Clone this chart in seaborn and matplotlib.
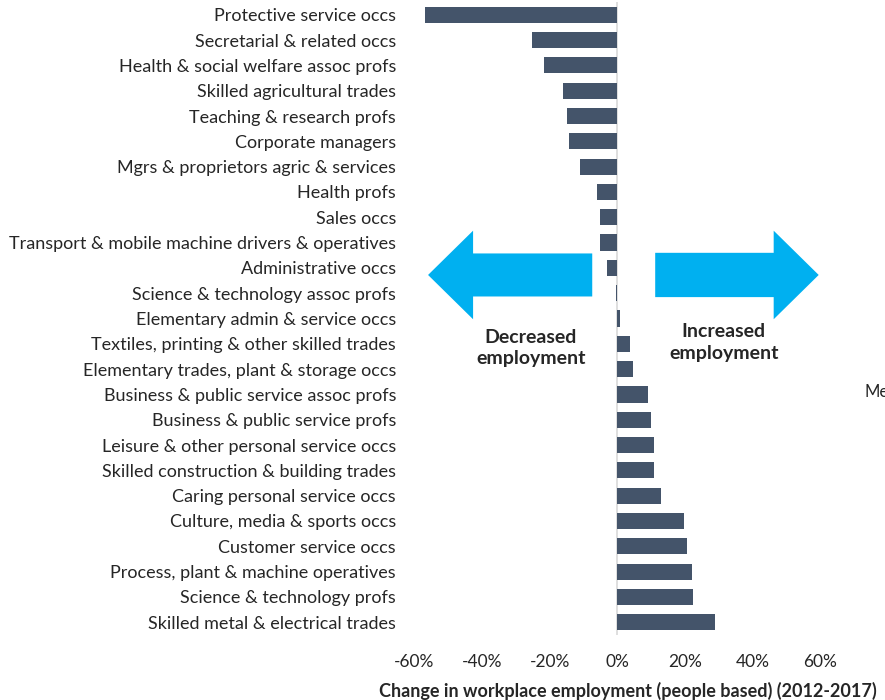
import matplotlib
matplotlib.use("Agg")
import matplotlib.pyplot as plt
from matplotlib.patches import FancyArrow
from matplotlib.ticker import FuncFormatter
import pandas as pd
import seaborn as sns

# ------------------------
# Data
# ------------------------
occupations = [
    "Protective service occs",
    "Secretarial & related occs",
    "Health & social welfare assoc profs",
    "Skilled agricultural trades",
    "Teaching & research profs",
    "Corporate managers",
    "Mgrs & proprietors agric & services",
    "Health profs",
    "Sales occs",
    "Transport & mobile machine drivers & operatives",
    "Administrative occs",
    "Science & technology assoc profs",
    "Elementary admin & service occs",
    "Textiles, printing & other skilled trades",
    "Elementary trades, plant & storage occs",
    "Business & public service assoc profs",
    "Business & public service profs",
    "Leisure & other personal service occs",
    "Skilled construction & building trades",
    "Caring personal service occs",
    "Culture, media & sports occs",
    "Customer service occs",
    "Process, plant & machine operatives",
    "Science & technology profs",
    "Skilled metal & electrical trades",
]
change_pct = [
    -56.8, -25.1, -21.7, -16.1, -14.8, -14.3, -10.9, -6.0, -5.2, -5.2,
    -3.0, -0.5, 0.7, 3.8, 4.6, 9.1, 9.9, 10.7, 10.7, 12.9,
    19.8, 20.7, 22.0, 22.5, 28.9,
]
x_ticks = [-60, -40, -20, 0, 20, 40, 60]

BAR_COLOR = "#44546A"
ARROW_COLOR = "#00B0F0"

df = pd.DataFrame({"occupation": occupations, "change": change_pct})

# ------------------------
# Plot
# ------------------------
sns.set_theme(style="white")
plt.rcParams["font.family"] = ["Lato", "DejaVu Sans"]

fig = plt.figure(figsize=(8.85, 7.0), dpi=100)
ax = fig.add_axes([0.468, 0.093, 0.459, 0.904])

sns.barplot(data=df, x="change", y="occupation", orient="h",
            color=BAR_COLOR, width=0.64, saturation=1, linewidth=0,
            ax=ax, zorder=2)

ax.set_xlim(-60, 60)
ax.set_xticks(x_ticks)
ax.xaxis.set_major_formatter(FuncFormatter(lambda v, _: f"{v:.0f}%"))
ax.tick_params(axis="x", labelsize=12.5, pad=14, length=0)
ax.tick_params(axis="y", labelsize=13, pad=13, length=0)
ax.set_ylabel("")
ax.set_xlabel("Change in workplace employment (people based) (2012-2017)",
              fontsize=13, fontweight="bold", labelpad=8)
ax.xaxis.label.set_x(0.527)
for s in ax.spines.values():
    s.set_visible(False)
ax.axvline(0, color="#D9D9D9", lw=1.2, zorder=1)

# direction arrows
y_arrow = 10.28
ax.add_patch(FancyArrow(-7.4, y_arrow, -48.5, 0, width=1.7, head_width=3.5,
                        head_length=13.3, length_includes_head=True,
                        color=ARROW_COLOR, lw=0, zorder=3))
ax.add_patch(FancyArrow(11.2, y_arrow, 48.3, 0, width=1.75, head_width=3.5,
                        head_length=13.3, length_includes_head=True,
                        color=ARROW_COLOR, lw=0, zorder=3))
ax.text(-25.5, 13.15, "Decreased\nemployment", ha="center", va="center",
        fontsize=14, fontweight="bold", linespacing=1.3)
ax.text(31.5, 12.95, "Increased\nemployment", ha="center", va="center",
        fontsize=14, fontweight="bold", linespacing=1.3)

fig.text(865 / 885, 1 - 392 / 700, "Me", fontsize=12, va="center", ha="left")

fig.savefig("out.png", dpi=100)
plt.close(fig)
